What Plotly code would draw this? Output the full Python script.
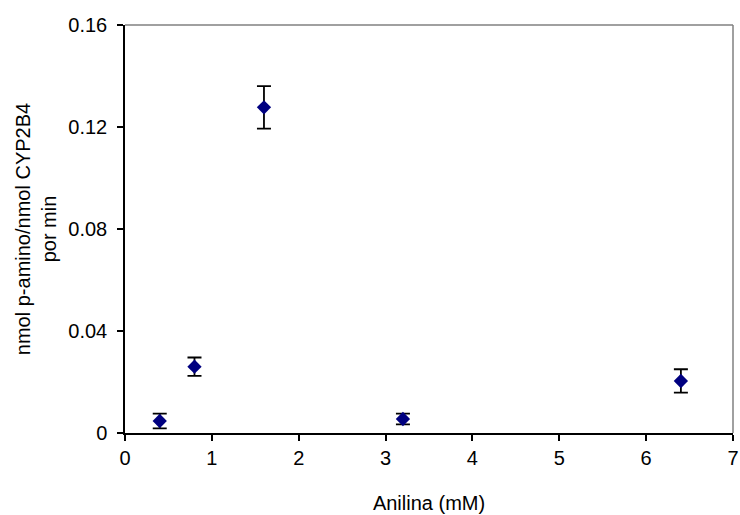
import plotly.graph_objects as go

# Aniline concentration (mM) and p-aminophenol formation rate
anilina_mM = [0.4, 0.8, 1.6, 3.2, 6.4]
actividad = [0.0047, 0.026, 0.1277, 0.0055, 0.0204]
error_sd = [0.0029, 0.0036, 0.0083, 0.0021, 0.0046]

x_ticks = [0, 1, 2, 3, 4, 5, 6, 7]
y_ticks = [0, 0.04, 0.08, 0.12, 0.16]
y_tick_text = ["0", "0.04", "0.08", "0.12", "0.16"]

fig = go.Figure()
fig.add_trace(go.Scatter(
    x=anilina_mM,
    y=actividad,
    mode="markers",
    marker=dict(symbol="diamond", size=11, color="#000080", line=dict(width=0)),
    error_y=dict(type="data", array=error_sd, visible=True,
                 color="black", thickness=1.8, width=7),
    showlegend=False,
))

font_family = "Liberation Sans, Arial, sans-serif"

fig.update_layout(
    width=740, height=515,
    margin=dict(l=125, r=7, t=25, b=82),
    paper_bgcolor="white",
    plot_bgcolor="white",
    font=dict(family=font_family, size=20, color="black"),
    xaxis=dict(
        range=[0, 7], tickvals=x_ticks,
        showgrid=False, zeroline=False, automargin=False,
        showline=True, linecolor="black", linewidth=1.5,
        ticks="outside", ticklen=6, tickwidth=1.5, tickcolor="black",
        tickfont=dict(size=20), ticklabeloverflow="allow",
        ticklabelstandoff=0,
        title=dict(text="Anilina (mM)", font=dict(size=20), standoff=28),
    ),
    yaxis=dict(
        range=[0, 0.16], tickvals=y_ticks, ticktext=y_tick_text,
        showgrid=False, zeroline=False, automargin=False,
        showline=True, linecolor="black", linewidth=1.5,
        ticks="outside", ticklen=6, tickwidth=1.5, tickcolor="black",
        tickfont=dict(size=20), ticklabelstandoff=6,
        title=dict(text="nmol p-amino/nmol CYP2B4<br>por min",
                   font=dict(size=20), standoff=6),
    ),
    shapes=[
        dict(type="line", xref="paper", yref="paper", x0=0, x1=1, y0=1, y1=1,
             line=dict(color="#808080", width=1.5)),
        dict(type="line", xref="paper", yref="paper", x0=1, x1=1, y0=0, y1=1,
             line=dict(color="#808080", width=1.5)),
    ],
)

fig.write_html("out.html")
